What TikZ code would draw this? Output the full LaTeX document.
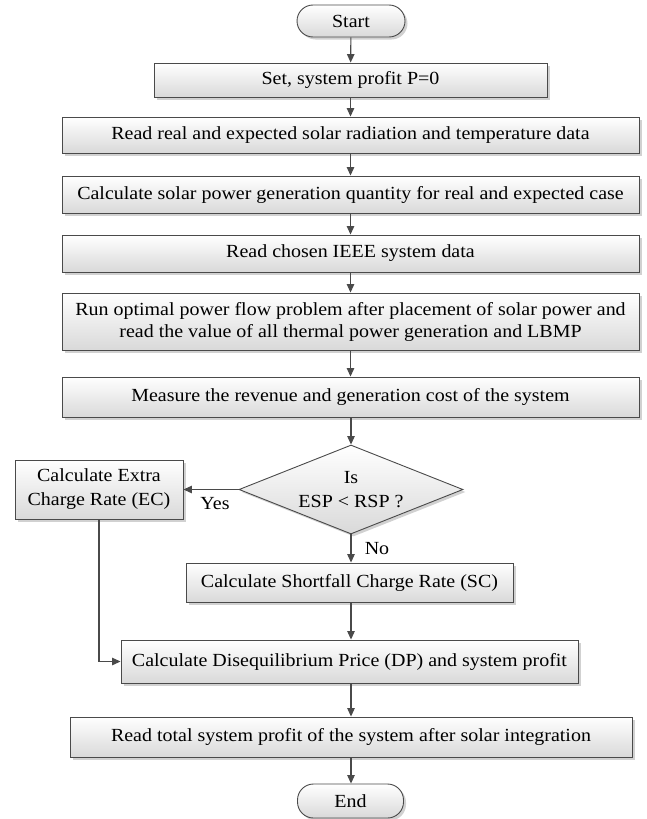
\documentclass[tikz,border=0pt]{standalone}
\usepackage{fontspec}
\setmainfont[FakeStretch=1.08]{Liberation Serif}
\usetikzlibrary{arrows.meta,shapes.geometric,shadows}
\definecolor{edgegray}{HTML}{4A4A4A}
\definecolor{fillbot}{HTML}{D9D9D9}
\begin{document}
\begin{tikzpicture}[x=1pt,y=-1pt,
  every node/.style={font=\fontsize{18.5}{22}\selectfont, text=black},
  box/.style={draw=edgegray, line width=0.9pt, top color=white, bottom color=fillbot,
    inner sep=0pt, align=center,
    drop shadow={shadow xshift=2.5pt, shadow yshift=-2.5pt, fill=black!30, opacity=0.6}},
  term/.style={box, rounded corners=16pt},
  dia/.style={draw=edgegray, line width=0.9pt, diamond, top color=white, bottom color=fillbot,
    inner sep=0pt, aspect=2.52,
    drop shadow={shadow xshift=2.5pt, shadow yshift=-2.5pt, fill=black!30, opacity=0.6}},
  arr/.style={draw=edgegray, line width=1.1pt, -{Triangle[length=8.5pt,width=7.5pt]}},
  lbl/.style={inner sep=0pt}
]
\useasboundingbox (0,0) rectangle (647,819);
\node[term, minimum width=108, minimum height=32] (start) at (351,21) {Start};
\node[box, minimum width=393, minimum height=34] (set) at (350.5,80) {Set, system profit P=0};
\node[box, minimum width=577, minimum height=36] (read) at (350.5,135) {Read real and expected solar radiation and temperature data};
\node[box, minimum width=577, minimum height=37] (calc) at (350.5,194.5) {Calculate solar power generation quantity for real and expected case};
\node[box, minimum width=577, minimum height=37] (ieee) at (350.5,253.5) {Read chosen IEEE system data};
\node[box, minimum width=577, minimum height=57] (opf) at (350.5,321.5) {Run optimal power flow problem after placement of solar power and\\read the value of all thermal power generation and LBMP};
\node[box, minimum width=577, minimum height=40] (meas) at (350.5,397) {Measure the revenue and generation cost of the system};
\node[dia, minimum width=224, minimum height=89] (dec) at (351,489.5) {};
\node[lbl, align=center, font=\fontsize{18.5}{24}\selectfont] (dectext) at (351,490) {Is\\ESP < RSP ?};
\node[box, minimum width=168, minimum height=59, font=\fontsize{18.5}{24}\selectfont] (ec) at (99,489.5) {Calculate Extra\\Charge Rate (EC)};
\node[box, minimum width=327, minimum height=39] (sc) at (349.5,582.5) {Calculate Shortfall Charge Rate (SC)};
\node[box, minimum width=457, minimum height=43] (dp) at (349.5,661.5) {Calculate Disequilibrium Price (DP) and system profit};
\node[box, minimum width=562, minimum height=40] (fin) at (351,737) {Read total system profit of the system after solar integration};
\node[term, minimum width=106, minimum height=34] (end) at (350.5,801) {End};
\node[lbl] (yes) at (215,504) {Yes};
\node[lbl] (no) at (377,549) {No};
\coordinate (corner) at (ec.south |- dp.west);
\draw[arr] (start) -- (set);
\draw[arr] (set) -- (read);
\draw[arr] (read) -- (calc);
\draw[arr] (calc) -- (ieee);
\draw[arr] (ieee) -- (opf);
\draw[arr] (opf) -- (meas);
\draw[arr] (meas.south -| dec.north) -- (dec.north);
\draw[arr] (dec.west) -- (ec.east |- dec.west);
\draw[arr] (dec.south) -- (sc.north -| dec.south);
\draw[arr] (ec.south) -- (corner) -- (dp.west);
\draw[arr] (sc.south -| dec.south) -- (dp.north -| dec.south);
\draw[arr] (dp.south -| dec.south) -- (fin.north -| dec.south);
\draw[arr] (fin.south -| dec.south) -- (end.north -| dec.south);
\end{tikzpicture}
\end{document}
